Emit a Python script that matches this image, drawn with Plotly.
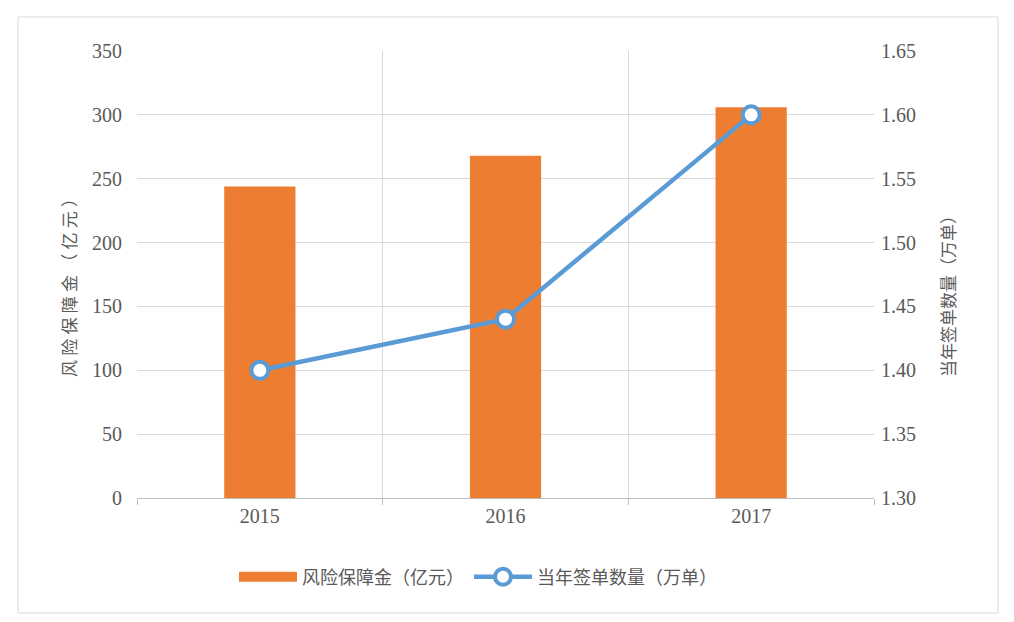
import plotly.graph_objects as go

years = ["2015", "2016", "2017"]
risk_fund = [244, 268, 306]          # 风险保障金（亿元）
policies = [1.40, 1.44, 1.60]        # 当年签单数量（万单）

bar_name = "风险保障金（亿元）"
line_name = "当年签单数量（万单）"
left_title = "风险保障金（亿元）"
right_title = "当年签单数量（万单）"

left_ticks = [0, 50, 100, 150, 200, 250, 300, 350]
right_ticks = [1.30, 1.35, 1.40, 1.45, 1.50, 1.55, 1.60, 1.65]

serif = "Liberation Serif, Times New Roman, serif"
cjk = "Noto Sans CJK SC, sans-serif"
txt = "#595959"
grid = "#D9D9D9"
orange = "#ED7D31"
blue = "#5B9BD5"

# page offset of the plot div (body margin)
off = 8
L, R, T, B = 137 - off, 1014 - 874 + off, 51 - off, 622 - 498 + off
X0, Y0, PW, PH = 137, 498, 737, 447

def px(x):
    return (x - X0) / PW

def py(y):
    return (Y0 - y) / PH

def spaced(s):
    return "\u2005".join(list(s))

fig = go.Figure()
fig.add_trace(go.Bar(
    x=years, y=risk_fund, name=bar_name, showlegend=False,
    marker=dict(color=orange, line=dict(width=0)),
    width=0.29, yaxis="y",
))
# legend swatch for the bar series (wide rectangle like the reference)
fig.add_trace(go.Scatter(
    x=[None], y=[None], name=bar_name, mode="lines",
    line=dict(color=orange, width=15), yaxis="y",
))
fig.add_trace(go.Scatter(
    x=years, y=policies, name=line_name, mode="lines+markers",
    line=dict(color=blue, width=4.5),
    marker=dict(size=17, color="white", line=dict(color=blue, width=4)),
    yaxis="y2",
))

fig.update_layout(
    width=1014, height=622,
    margin=dict(l=L, r=R, t=T, b=B),
    paper_bgcolor="white", plot_bgcolor="white",
    showlegend=True,
    legend=dict(orientation="h", x=px(478), xanchor="center", y=py(577), yanchor="middle",
                font=dict(family=cjk, size=18, color=txt), itemwidth=58,
                traceorder="normal"),
    xaxis=dict(
        type="category", tickson="boundaries", showgrid=True, gridcolor=grid, gridwidth=1,
        ticks="outside", ticklen=6, tickcolor="#BFBFBF",
        showline=True, linecolor="#BFBFBF", linewidth=1,
        tickfont=dict(family=serif, size=20, color=txt),
        range=[-0.5, 2.5],
    ),
    yaxis=dict(
        range=[0, 350], tickvals=left_ticks, showgrid=True, gridcolor=grid, gridwidth=1,
        zeroline=False, showline=False, ticklabelstandoff=14,
        tickfont=dict(family=serif, size=20, color=txt),
    ),
    yaxis2=dict(
        overlaying="y", side="right", range=[1.30, 1.65], tickvals=right_ticks,
        tickformat=".2f", showgrid=False, zeroline=False, showline=False, ticklabelstandoff=6,
        tickfont=dict(family=serif, size=20, color=txt),
    ),
    annotations=[
        dict(text=spaced(left_title), xref="paper", yref="paper", x=px(68), y=py(284),
             xanchor="center", yanchor="middle", textangle=-90, showarrow=False,
             font=dict(family=cjk, size=17, color=txt)),
        dict(text=right_title, xref="paper", yref="paper", x=px(947), y=py(292),
             xanchor="center", yanchor="middle", textangle=-90, showarrow=False,
             font=dict(family=cjk, size=17, color=txt)),
    ],
    shapes=[dict(type="rect", xref="paper", yref="paper",
                 x0=px(18), x1=px(998), y0=py(613), y1=py(17),
                 line=dict(color="#D9D9D9", width=1), fillcolor="rgba(0,0,0,0)", layer="below")],
)

fig.write_html("out.html")
